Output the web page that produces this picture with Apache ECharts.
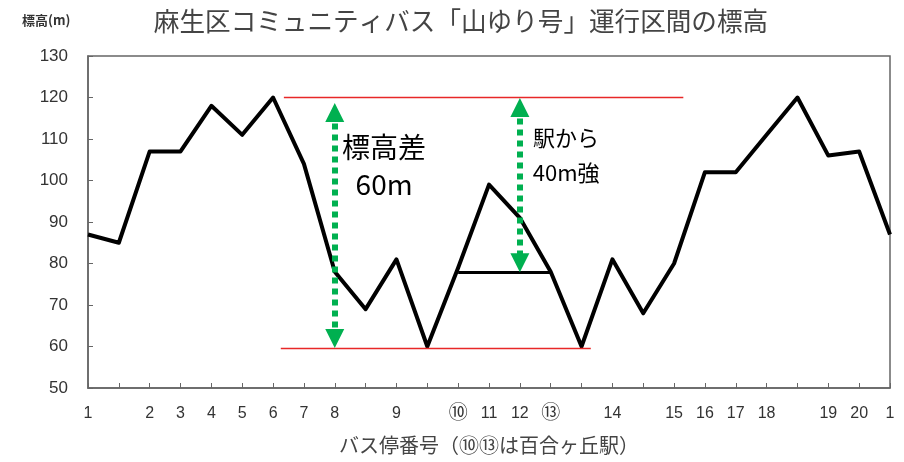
<!DOCTYPE html>
<html>
<head>
<meta charset="utf-8">
<script src="https://cdn.jsdelivr.net/npm/echarts@6/dist/echarts.min.js"></script>
<style>
  html, body { margin: 0; padding: 0; background: #fff; }
  #chart { width: 904px; height: 462px; }
</style>
</head>
<body>
<div id="chart"></div>
<script>
// バス停の並び（空欄は番号なしの中間点）
var stopLabels = ['1', '', '2', '3', '4', '5', '6', '7', '8', '', '9', '', '⑩', '11', '12', '⑬', '', '14', '', '15', '16', '17', '18', '', '19', '20', '1'];
// 標高 (m)
var elevation = [87, 85, 107, 107, 118, 111, 120, 104, 78, 69, 81, 60, 79, 99, 91, 78, 60, 81, 68, 80, 102, 102, 111, 120, 106, 107, 87];
var yTicks = { min: 50, max: 130, step: 10 };
// 注記テキスト
var noteTexts = ['標高差\n60m', '駅から\n40m強'];

var chart = echarts.init(document.getElementById('chart'));
var numFont = "'Liberation Sans', 'Noto Sans CJK JP', sans-serif";
var jpFont = "'Noto Sans CJK JP', sans-serif";

var lineData = elevation.map(function (v, i) { return [i, v]; });

chart.setOption({
  animation: false,
  title: {
    text: '麻生区コミュニティバス「山ゆり号」運行区間の標高',
    left: 456, top: 3, textAlign: 'center',
    textStyle: { fontFamily: jpFont, fontSize: 25.6, fontWeight: 'normal', color: '#444' }
  },
  graphic: [{
    type: 'text', left: 22, top: 14,
    style: { text: '標高(m)', font: 'bold 13px ' + jpFont, fill: '#333' }
  }],
  grid: { left: 88, right: 14, top: 56, bottom: 74, show: true, borderColor: '#666', borderWidth: 1.5, backgroundColor: 'transparent' },
  xAxis: {
    type: 'value', min: 0, max: stopLabels.length - 1, interval: 1,
    name: 'バス停番号（⑩⑬は百合ヶ丘駅）', nameLocation: 'middle', nameGap: 47,
    nameTextStyle: { fontFamily: jpFont, fontSize: 20, color: '#444' },
    splitLine: { show: false },
    axisLine: { lineStyle: { color: '#666', width: 1.5 } },
    axisTick: { inside: true, length: 5, lineStyle: { color: '#666' } },
    axisLabel: {
      margin: 16, fontFamily: numFont, fontSize: 16, lineHeight: 20, color: '#333',
      formatter: function (v) {
        var s = stopLabels[v] || '';
        return /[⑩⑬]/.test(s) ? '{c|' + s + '}' : s;
      },
      rich: { c: { fontFamily: jpFont, fontSize: 19, lineHeight: 20, color: '#333', padding: [0, 0, 4, 0] } }
    }
  },
  yAxis: {
    type: 'value', min: yTicks.min, max: yTicks.max, interval: yTicks.step,
    splitLine: { show: false },
    axisLine: { show: true, lineStyle: { color: '#666', width: 1.5 } },
    axisTick: { show: true, inside: true, length: 5, lineStyle: { color: '#666' } },
    axisLabel: { margin: 20, fontFamily: numFont, fontSize: 17, color: '#333' }
  },
  series: [{
    type: 'line',
    data: lineData,
    symbol: 'none',
    lineStyle: { color: '#000', width: 4, join: 'round' },
    z: 3,
    markLine: {
      silent: true,
      symbol: 'none',
      label: { show: false },
      data: [
        [{ coord: [6.35, 120], lineStyle: { color: '#e82828', width: 1.3, type: 'solid' } }, { coord: [19.3, 120] }],
        [{ coord: [6.25, 59.5], lineStyle: { color: '#e82828', width: 1.3, type: 'solid' } }, { coord: [16.3, 59.5] }],
        [{ coord: [12, 78], lineStyle: { color: '#000', width: 3, type: 'solid' } }, { coord: [15, 78] }]
      ]
    }
  }, {
    type: 'line',
    data: [],
    z: 4,
    markLine: {
      silent: true,
      symbol: ['triangle', 'triangle'],
      symbolSize: [19, 19],
      label: { show: false },
      lineStyle: { color: '#00b050', width: 6, type: [6, 5] },
      data: [
        [{ coord: [8, 116.4] }, { coord: [8, 61.9] }],
        [{ coord: [14, 117.6] }, { coord: [14, 80.2] }]
      ]
    }
  }, {
    type: 'scatter',
    silent: true,
    symbolSize: 1,
    itemStyle: { color: 'rgba(0,0,0,0)' },
    z: 5,
    label: {
      show: true, position: 'inside', fontFamily: jpFont, color: '#000',
      textBorderWidth: 0, align: 'center', opacity: 1,
      formatter: function (p) { return noteTexts[p.dataIndex]; }
    },
    data: [
      { value: [9.6, 103.5], label: { fontSize: 28, lineHeight: 37 } },
      { value: [15.5, 106.2], label: { fontSize: 22, lineHeight: 35 } }
    ]
  }]
});

window.onresize = function () { chart.resize(); };
</script>
</body>
</html>
